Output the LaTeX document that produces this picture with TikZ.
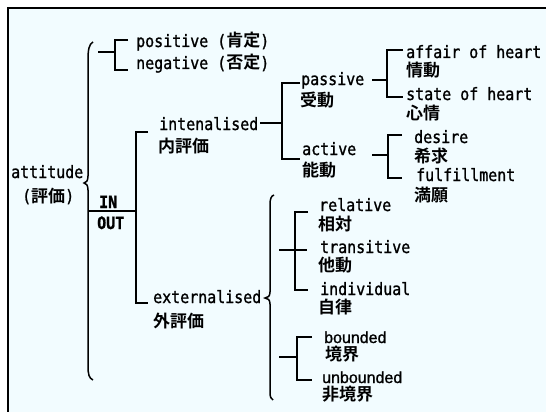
\documentclass[tikz,border=0pt]{standalone}
\usepackage{fontspec}
\newfontfamily\monofam[FakeStretch=0.88,FakeBold=1.2]{DejaVu Sans Mono}
\newfontfamily\psfam[FakeBold=1.2]{Liberation Sans}
\newfontfamily\cjkfam{Noto Sans CJK JP Bold}
\newcommand\mf{\monofam\fontsize{17pt}{17pt}\selectfont}
\newcommand\psf{\psfam\fontsize{16pt}{16pt}\selectfont}
\newcommand\jf{\cjkfam\fontsize{17pt}{17pt}\selectfont}
\definecolor{bgc}{RGB}{242,252,255}
\tikzset{
  lbl/.style={anchor=base west, inner sep=0pt},
  br/.style={line width=1.6pt, black},
  brc/.style={line width=1.5pt, black},
}
\begin{document}
\begin{tikzpicture}[x=1pt,y=-1pt]
\useasboundingbox (0,0) rectangle (546,412);
\fill[white] (0,0) rectangle (546,412);
\fill[bgc] (8,8) rectangle (546,412);
\draw[line width=2pt] (8,412) -- (8,8) -- (546,8);
% texts
\node[lbl] (pos) at (136,47) {\mf positive (\jf 肯定\mf )};
\node[lbl] (neg) at (136,69) {\mf negative (\jf 否定\mf )};
\node[lbl] (att) at (11,178) {\mf attitude};
\node[lbl] (attj) at (22,202) {\mf (\jf 評価\mf )};
\node[lbl] (in) at (99,208) {\mf\bfseries IN};
\node[lbl] (out) at (97,229) {\mf\bfseries OUT};
\node[lbl] (int) at (159,130) {\mf intenalised};
\node[lbl] (intj) at (158,152) {\jf 内評価};
\node[lbl] (ext) at (153,303) {\mf externalised};
\node[lbl] (extj) at (153,327) {\jf 外評価};
\node[lbl] (pas) at (301,85) {\mf passive};
\node[lbl] (pasj) at (300,106) {\jf 受動};
\node[lbl] (act) at (302,155) {\mf active};
\node[lbl] (actj) at (302,176) {\jf 能動};
\node[lbl] (aff) at (406,58) {\mf affair of heart};
\node[lbl] (affj) at (406,77) {\jf 情動};
\node[lbl] (sta) at (406,100) {\mf state of heart};
\node[lbl] (staj) at (406,119) {\jf 心情};
\node[lbl] (des) at (414,143) {\mf desire};
\node[lbl] (desj) at (414,162) {\jf 希求};
\node[lbl] (ful) at (416,181) {\mf fulfillment};
\node[lbl] (fulj) at (414,201) {\jf 満願};
\node[lbl] (rel) at (319,211) {\mf relative};
\node[lbl] (relj) at (318,230) {\jf 相対};
\node[lbl] (tra) at (320,253) {\mf transitive};
\node[lbl] (traj) at (318,271) {\jf 他動};
\node[lbl] (ind) at (320,295) {\mf individual};
\node[lbl] (indj) at (318,313) {\jf 自律};
\node[lbl] (bou) at (324,343) {\psf bounded};
\node[lbl] (bouj) at (325,360) {\jf 境界};
\node[lbl] (unb) at (322,383) {\psf unbounded};
\node[lbl] (unbj) at (322,400) {\jf 非境界};
% big brace
\draw[brc] (93,42) .. controls (89,44) and (88,50) .. (88,60) -- (88,176)
  .. controls (88,181) and (86,183) .. (84,183)
  .. controls (86,183) and (88,185) .. (88,190) -- (88,365)
  .. controls (88,375) and (89,378) .. (93,380);
% positive / negative
\draw[br] (98,52) -- (115,52);
\draw[br] (128,40) -- (115,40) -- (115,70) -- (128,70);
% IN / OUT
\draw[br] (88,211) -- (136,211);
\draw[br] (148,132) -- (136,132) -- (136,303) -- (148,303);
% internalised
\draw[br] (260,123) -- (282,123);
\draw[br] (300,83) -- (282,83) -- (282,159) -- (300,159);
\draw[br] (372,80) -- (387,80);
\draw[br] (403,50) -- (387,50) -- (387,97) -- (403,97);
\draw[br] (372,155) -- (388,155);
\draw[br] (402,135) -- (388,135) -- (388,178) -- (402,178);
% externalised brace
\draw[brc] (274,195) .. controls (271,196) and (270,199) .. (270,205) -- (270,292)
  .. controls (270,296) and (268,298) .. (265,298)
  .. controls (268,298) and (270,300) .. (270,304) -- (270,392)
  .. controls (270,397) and (271,399) .. (273,400);
\draw[br] (279,250) -- (307,250);
\draw[br] (308,212) -- (295,212) -- (295,290) -- (308,290);
\draw[br] (279,357) -- (297,357);
\draw[br] (312,337) -- (297,337) -- (297,380) -- (312,380);
\end{tikzpicture}
\end{document}
